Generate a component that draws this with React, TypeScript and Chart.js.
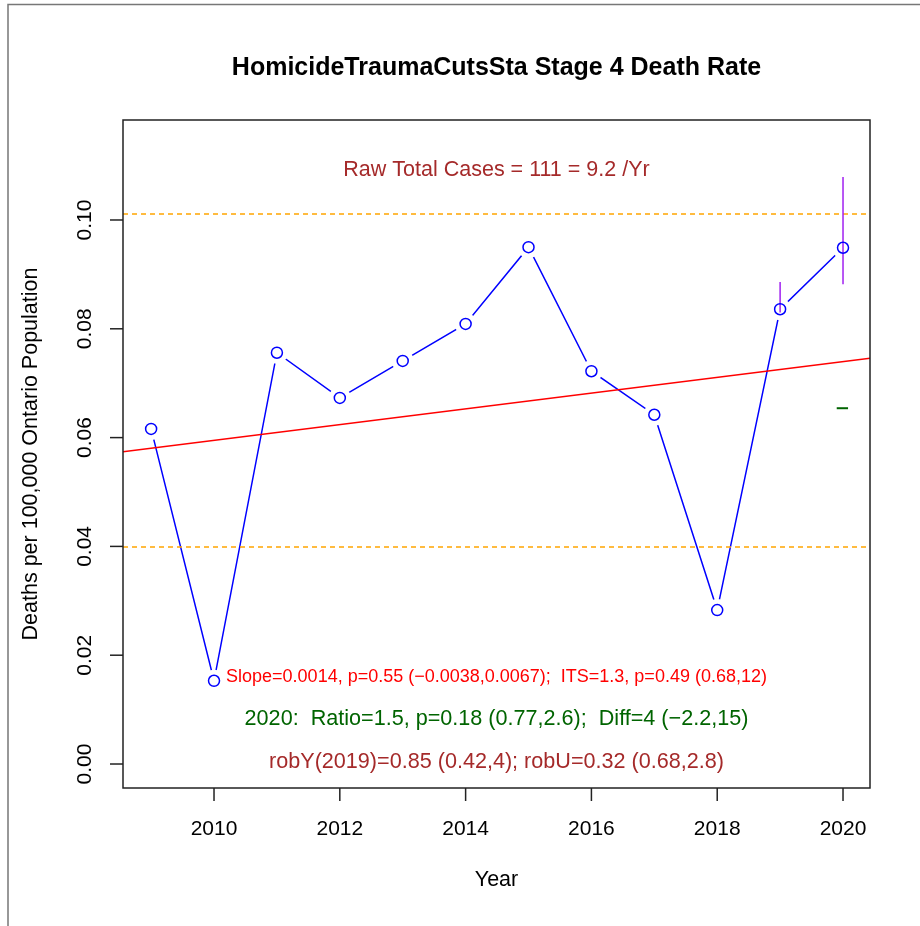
import React, { useEffect, useRef } from "react";
import { Chart, registerables } from "chart.js";

Chart.register(...registerables);

// ---------- data ----------
const YEARS = [2009, 2010, 2011, 2012, 2013, 2014, 2015, 2016, 2017, 2018, 2019, 2020];
const RATES = [0.0616, 0.0153, 0.0756, 0.0673, 0.0741, 0.0809, 0.095, 0.0722, 0.0642, 0.0283, 0.0836, 0.0949];

const X_TICKS = [2010, 2012, 2014, 2016, 2018, 2020];
const X_TICK_LABELS = ["2010", "2012", "2014", "2016", "2018", "2020"];
const Y_TICKS = [0, 0.02, 0.04, 0.06, 0.08, 0.1];
const Y_TICK_LABELS = ["0.00", "0.02", "0.04", "0.06", "0.08", "0.10"];

const X_RANGE = [2008.553, 2020.429];
const Y_RANGE = [-0.00441, 0.11838];

const TREND_X = [2008.553, 2020.429];
const TREND_Y = [0.0574, 0.0746];
const LIMIT_UPPER = 0.1011;
const LIMIT_LOWER = 0.0399;
const CI_2019 = [0.083, 0.0886];
const CI_2020 = [0.0882, 0.1079];
const EXPECTED_2020 = 0.0654;
const EXPECTED_X = [2019.9, 2020.08];

const TITLE = "HomicideTraumaCutsSta Stage 4 Death Rate";
const X_TITLE = "Year";
const Y_TITLE = "Deaths per 100,000 Ontario Population";
const NOTE_TOTAL = "Raw Total Cases = 111 = 9.2 /Yr";
const NOTE_SLOPE = "Slope=0.0014, p=0.55 (\u22120.0038,0.0067);  ITS=1.3, p=0.49 (0.68,12)";
const NOTE_RATIO = "2020:  Ratio=1.5, p=0.18 (0.77,2.6);  Diff=4 (\u22122.2,15)";
const NOTE_ROB = "robY(2019)=0.85 (0.42,4); robU=0.32 (0.68,2.8)";

const FONT = "'Liberation Sans', Arial, Helvetica, sans-serif";
const BLUE = "#0000FF";
const RED = "#FF0000";
const ORANGE = "#FFA500";
const PURPLE = "#A020F0";
const DARKGREEN = "#006400";
const BROWN = "#A52A2A";

const decorPlugin = {
  id: "rDecor",
  afterDraw(chart: any) {
    const ctx = chart.ctx as CanvasRenderingContext2D;
    const { left, right, top, bottom } = chart.chartArea;
    const xs = chart.scales.x;
    const ys = chart.scales.y;
    const cx = (left + right) / 2;
    const cy = (top + bottom) / 2;
    ctx.save();

    // outer frame
    ctx.strokeStyle = "#777";
    ctx.lineWidth = 1.5;
    ctx.beginPath();
    ctx.moveTo(8, 926);
    ctx.lineTo(8, 4.5);
    ctx.lineTo(920, 4.5);
    ctx.stroke();

    // plot box
    ctx.strokeStyle = "#222";
    ctx.lineWidth = 1.5;
    ctx.strokeRect(left, top, right - left, bottom - top);

    // x ticks
    ctx.fillStyle = "#000";
    ctx.font = `21px ${FONT}`;
    ctx.textAlign = "center";
    ctx.textBaseline = "middle";
    X_TICKS.forEach((v, i) => {
      const px = xs.getPixelForValue(v);
      ctx.beginPath();
      ctx.moveTo(px, bottom);
      ctx.lineTo(px, bottom + 13);
      ctx.stroke();
      ctx.fillText(X_TICK_LABELS[i], px, bottom + 41);
    });

    // y ticks
    Y_TICKS.forEach((v, i) => {
      const py = ys.getPixelForValue(v);
      ctx.beginPath();
      ctx.moveTo(left, py);
      ctx.lineTo(left - 13, py);
      ctx.stroke();
      ctx.save();
      ctx.translate(left - 38, py);
      ctx.rotate(-Math.PI / 2);
      ctx.fillText(Y_TICK_LABELS[i], 0, 0);
      ctx.restore();
    });

    // axis titles
    ctx.font = `21.5px ${FONT}`;
    ctx.fillText(X_TITLE, cx, bottom + 92);
    ctx.save();
    ctx.translate(31, cy);
    ctx.rotate(-Math.PI / 2);
    ctx.fillText(Y_TITLE, 0, 0);
    ctx.restore();

    // main title
    ctx.font = `bold 25px ${FONT}`;
    ctx.fillText(TITLE, cx, 68);

    // notes
    ctx.font = `21.5px ${FONT}`;
    ctx.fillStyle = BROWN;
    ctx.fillText(NOTE_TOTAL, cx, 170);
    ctx.font = `18px ${FONT}`;
    ctx.fillStyle = RED;
    ctx.fillText(NOTE_SLOPE, cx, 677);
    ctx.font = `21.6px ${FONT}`;
    ctx.fillStyle = DARKGREEN;
    ctx.fillText(NOTE_RATIO, cx, 719);
    ctx.fillStyle = BROWN;
    ctx.fillText(NOTE_ROB, cx, 762);

    ctx.restore();
  },
};

export default function App() {
  const ref = useRef<HTMLCanvasElement | null>(null);

  useEffect(() => {
    if (!ref.current) return;
    const pts = YEARS.map((x, i) => ({ x, y: RATES[i] }));
    const seg = (xa: number[], ya: number[]) => xa.map((x, i) => ({ x, y: ya[i] }));

    const chart = new Chart(ref.current, {
      type: "line",
      data: {
        datasets: [
          {
            data: pts,
            borderColor: BLUE,
            borderWidth: 1.5,
            pointRadius: 0,
            tension: 0,
            order: 10,
          },
          {
            data: pts,
            showLine: false,
            pointRadius: 11,
            pointBackgroundColor: "#FFFFFF",
            pointBorderWidth: 0,
            pointBorderColor: "rgba(0,0,0,0)",
            order: 9,
          },
          {
            data: seg(TREND_X, TREND_Y),
            borderColor: RED,
            borderWidth: 1.5,
            pointRadius: 0,
            order: 5,
          },
          {
            data: seg(X_RANGE, [LIMIT_UPPER, LIMIT_UPPER]),
            borderColor: ORANGE,
            borderWidth: 1.5,
            borderDash: [5, 4],
            pointRadius: 0,
            order: 5,
          },
          {
            data: seg(X_RANGE, [LIMIT_LOWER, LIMIT_LOWER]),
            borderColor: ORANGE,
            borderWidth: 1.5,
            borderDash: [5, 4],
            pointRadius: 0,
            order: 5,
          },
          {
            data: seg([2019, 2019], CI_2019),
            borderColor: PURPLE,
            borderWidth: 1.5,
            pointRadius: 0,
            order: 4,
          },
          {
            data: seg([2020, 2020], CI_2020),
            borderColor: PURPLE,
            borderWidth: 1.5,
            pointRadius: 0,
            order: 4,
          },
          {
            data: seg(EXPECTED_X, [EXPECTED_2020, EXPECTED_2020]),
            borderColor: DARKGREEN,
            borderWidth: 2,
            pointRadius: 0,
            order: 4,
          },
          {
            data: pts,
            showLine: false,
            pointRadius: 5.5,
            pointBackgroundColor: "rgba(0,0,0,0)",
            pointBorderColor: BLUE,
            pointBorderWidth: 1.5,
            order: 0,
          },
        ],
      },
      options: {
        animation: false,
        responsive: false,
        maintainAspectRatio: false,
        devicePixelRatio: 1,
        layout: { padding: { left: 123, top: 120, right: 50, bottom: 138 } },
        scales: {
          x: { type: "linear", min: X_RANGE[0], max: X_RANGE[1], display: false },
          y: { type: "linear", min: Y_RANGE[0], max: Y_RANGE[1], display: false },
        },
        plugins: {
          legend: { display: false },
          tooltip: { enabled: false },
          title: { display: false },
        },
        events: [],
      },
      plugins: [decorPlugin],
    });
    return () => chart.destroy();
  }, []);

  return (
    <div style={{ position: "fixed", left: 0, top: 0, width: 920, height: 926, background: "#fff" }}>
      <canvas ref={ref} width={920} height={926} style={{ display: "block" }} />
    </div>
  );
}
